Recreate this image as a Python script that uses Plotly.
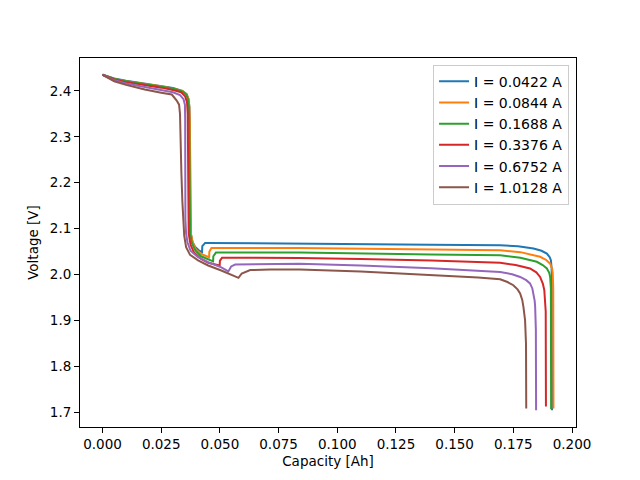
import plotly.graph_objects as go

# Capacity [Ah] and Voltage [V], one pair per current
cap_0422 = [0, 0.005, 0.010, 0.018, 0.025, 0.030, 0.034, 0.0358, 0.0366, 0.0370, 0.0372, 0.0373, 0.0376,
            0.0383, 0.0395, 0.0410, 0.0424, 0.0425, 0.0437, 0.045, 0.084, 0.110, 0.140, 0.1694, 0.1770,
            0.1836, 0.1870, 0.1893, 0.1905, 0.1910, 0.1913, 0.1914, 0.1915]
volt_0422 = [2.435, 2.427, 2.422, 2.416, 2.411, 2.406, 2.400, 2.393, 2.383, 2.365, 2.33, 2.12, 2.09,
             2.072, 2.060, 2.053, 2.049, 2.062, 2.069, 2.069, 2.068, 2.066, 2.065, 2.064, 2.062,
             2.057, 2.052, 2.046, 2.038, 2.0315, 2.015, 1.99, 1.705]

cap_0844 = [0, 0.005, 0.010, 0.018, 0.025, 0.030, 0.034, 0.0358, 0.0366, 0.0370, 0.0372, 0.0373, 0.0376,
            0.0384, 0.0398, 0.0420, 0.0454, 0.0455, 0.0464, 0.084, 0.110, 0.140, 0.1694, 0.1780,
            0.1864, 0.1890, 0.1907, 0.1915, 0.1918, 0.1920, 0.1921]
volt_0844 = [2.435, 2.426, 2.421, 2.4155, 2.410, 2.405, 2.400, 2.393, 2.383, 2.365, 2.33, 2.12, 2.09,
             2.070, 2.055, 2.045, 2.038, 2.050, 2.058, 2.058, 2.056, 2.055, 2.053, 2.049,
             2.039, 2.032, 2.024, 2.013, 2.003, 1.97, 1.709]

cap_1688 = [0, 0.005, 0.010, 0.018, 0.025, 0.030, 0.034, 0.0357, 0.0364, 0.0368, 0.0369, 0.0370, 0.0373,
            0.0381, 0.0396, 0.0420, 0.0471, 0.0472, 0.0483, 0.084, 0.110, 0.140, 0.1694, 0.1780,
            0.1850, 0.1875, 0.1893, 0.1903, 0.1907, 0.1910, 0.1911]
volt_1688 = [2.435, 2.426, 2.421, 2.415, 2.410, 2.405, 2.399, 2.392, 2.382, 2.365, 2.33, 2.12, 2.09,
             2.068, 2.052, 2.040, 2.029, 2.040, 2.048, 2.0483, 2.046, 2.044, 2.0424, 2.037,
             2.028, 2.021, 2.0135, 2.004, 1.995, 1.97, 1.707]

cap_3376 = [0, 0.005, 0.010, 0.018, 0.025, 0.030, 0.0335, 0.0352, 0.0360, 0.0363, 0.0364, 0.0367,
            0.0375, 0.0390, 0.0420, 0.0450, 0.0499, 0.0500, 0.0509, 0.084, 0.110, 0.140, 0.1694, 0.1760,
            0.1821, 0.1848, 0.1864, 0.1876, 0.1882, 0.1886, 0.1888, 0.1889]
volt_3376 = [2.435, 2.425, 2.419, 2.413, 2.407, 2.402, 2.397, 2.388, 2.375, 2.35, 2.12, 2.09,
             2.065, 2.048, 2.034, 2.026, 2.020, 2.030, 2.037, 2.0365, 2.034, 2.031, 2.0257, 2.021,
             2.0135, 2.005, 1.995, 1.980, 1.966, 1.945, 1.92, 1.713]

cap_6752 = [0, 0.005, 0.010, 0.018, 0.025, 0.030, 0.033, 0.0345, 0.0351, 0.0352, 0.0353, 0.0356, 0.0362,
            0.0375, 0.0407, 0.0450, 0.0506, 0.0536, 0.0548, 0.0565, 0.084, 0.110, 0.140, 0.160, 0.1694,
            0.1745, 0.1779, 0.1805, 0.1821, 0.1831, 0.1836, 0.1841, 0.1843, 0.1846, 0.1847]
volt_6752 = [2.435, 2.423, 2.416, 2.409, 2.402, 2.397, 2.391, 2.382, 2.37, 2.34, 2.12, 2.09, 2.07,
             2.052, 2.038, 2.027, 2.016, 2.007, 2.018, 2.022, 2.0235, 2.020, 2.014, 2.009, 2.006,
             2.001, 1.995, 1.988, 1.981, 1.970, 1.959, 1.943, 1.930, 1.88, 1.705]

cap_10128 = [0, 0.005, 0.010, 0.018, 0.025, 0.0295, 0.0316, 0.0326, 0.0330, 0.0332, 0.0336, 0.0340,
             0.0344, 0.0348, 0.0356, 0.0373, 0.0407, 0.0450, 0.0506, 0.0579, 0.0593, 0.0629, 0.0714,
             0.084, 0.110, 0.140, 0.160, 0.1694, 0.1725, 0.1750, 0.1768, 0.1779, 0.1788, 0.1793,
             0.1800, 0.1804, 0.1805]
volt_10128 = [2.435, 2.421, 2.413, 2.403, 2.396, 2.392, 2.379, 2.37, 2.35, 2.28, 2.22, 2.16,
              2.1185, 2.085, 2.060, 2.043, 2.031, 2.020, 2.009, 1.993, 2.0026, 2.010, 2.011,
              2.0113, 2.007, 2.000, 1.994, 1.990, 1.984, 1.977, 1.968, 1.959, 1.945, 1.930,
              1.901, 1.85, 1.709]

labels = ["I = 0.0422 A", "I = 0.0844 A", "I = 0.1688 A", "I = 0.3376 A", "I = 0.6752 A", "I = 1.0128 A"]
caps = [cap_0422, cap_0844, cap_1688, cap_3376, cap_6752, cap_10128]
volts = [volt_0422, volt_0844, volt_1688, volt_3376, volt_6752, volt_10128]
colors = ["#1f77b4", "#ff7f0e", "#2ca02c", "#d62728", "#9467bd", "#8c564b"]

fig = go.Figure()
for c, v, lab, col in zip(caps, volts, labels, colors):
    fig.add_trace(go.Scatter(x=c, y=v, mode="lines", name=lab,
                             line=dict(color=col, width=2)))

axis_common = dict(showline=True, linecolor="black", linewidth=1, mirror=True,
                   ticks="outside", ticklen=5, tickwidth=1, tickcolor="black",
                   showgrid=False, zeroline=False,
                   tickfont=dict(family="DejaVu Sans", size=13.5, color="black"))

fig.update_layout(
    width=632, height=472,
    margin=dict(l=72, r=64, t=50, b=53),
    plot_bgcolor="white", paper_bgcolor="white",
    font=dict(family="DejaVu Sans", size=13.5, color="black"),
    xaxis=dict(range=[-0.0096, 0.2017], dtick=0.025, tick0=0, tickformat=".3f",
               title=dict(text="Capacity [Ah]", font=dict(size=13.5), standoff=5), **axis_common),
    yaxis=dict(range=[1.6685, 2.4715], dtick=0.1, tick0=1.7, tickformat=".1f",
               title=dict(text="Voltage [V]", font=dict(size=13.5), standoff=8), **axis_common),
    legend=dict(x=0.986, y=0.982, xanchor="right", yanchor="top",
                bgcolor="rgba(255,255,255,0.8)", bordercolor="#cccccc", borderwidth=1,
                font=dict(family="DejaVu Sans", size=14), itemwidth=30, tracegroupgap=0),
    showlegend=True,
)

fig.write_html("out.html")
